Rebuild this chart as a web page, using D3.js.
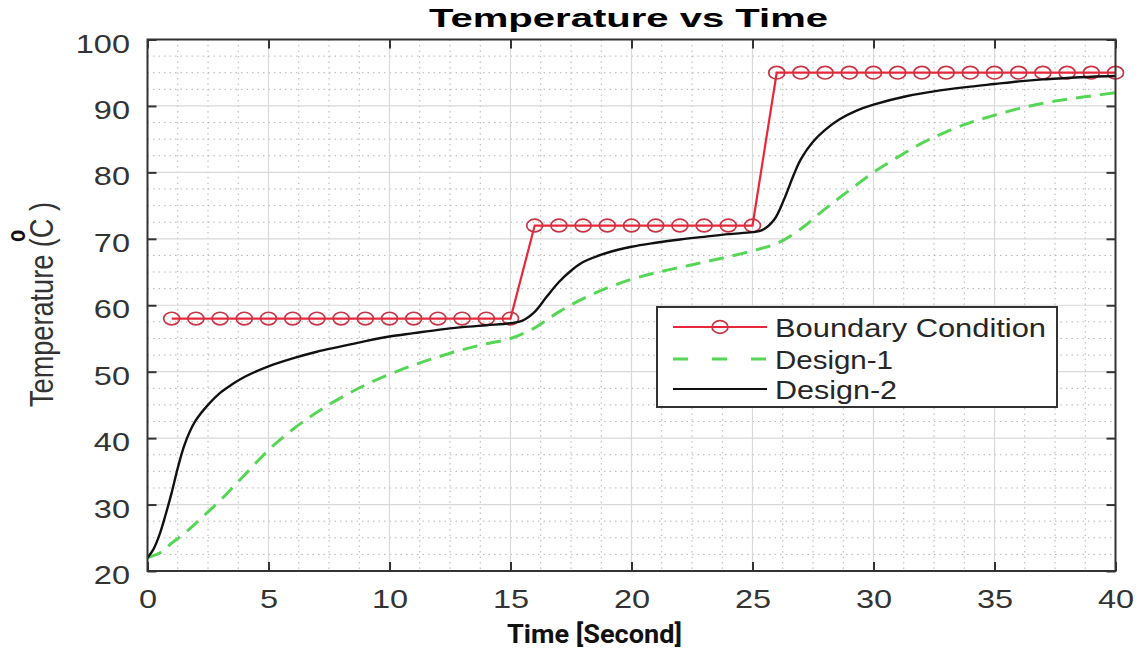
<!DOCTYPE html>
<html><head><meta charset="utf-8">
<script src="https://cdn.jsdelivr.net/npm/d3@7"></script>
<style>body{margin:0;background:#fff}</style>
</head><body><svg id="c" width="1140" height="651"></svg>
<script>
const xTicks=[0,5,10,15,20,25,30,35,40];
const yTicks=[20,30,40,50,60,70,80,90,100];
const titleText="Temperature vs Time";
const xLabel="Time [Second]";
const yLabel="Temperature (C )";
const seriesNames=["Boundary Condition","Design-1","Design-2"];

const bcTime=[1,2,3,4,5,6,7,8,9,10,11,12,13,14,15,16,17,18,19,20,21,22,23,24,25,26,27,28,29,30,31,32,33,34,35,36,37,38,39,40];
const bcTemp=[58,58,58,58,58,58,58,58,58,58,58,58,58,58,58,72,72,72,72,72,72,72,72,72,72,95,95,95,95,95,95,95,95,95,95,95,95,95,95,95];

const d1Time=[0,0.5,1,1.5,2,2.5,3,3.5,4,5,6,7,8,9,10,11,12,13,14,15,16,16.5,17,18,19,20,21,22,23,24,25,26,27,28,29,30,31,32,33,34,35,36,37,38,39,40];
const d1Temp=[22,22.7,24.2,25.6,27.2,28.9,30.6,32.5,34.4,38.2,41.3,43.9,46.1,48,49.6,51,52.2,53.3,54.2,55,56.6,57.8,59,61,62.6,63.9,64.9,65.7,66.5,67.3,68.2,69.3,71.5,74.5,77.3,80,82.3,84.4,86.1,87.5,88.6,89.6,90.4,91,91.5,92];

const d2Time=[0,0.25,0.5,0.75,1,1.25,1.5,1.75,2,2.5,3,3.5,4,5,6,7,8,9,10,11,12,13,14,15,15.5,16,16.5,17,17.5,18,19,20,21,22,23,24,25,25.4,25.9,26.3,26.7,27,27.5,28,28.6,29.3,30,31.4,32.5,34,35,36,37,38,39,40];
const d2Temp=[22,23.3,25.5,28.5,31.8,35.5,38.7,41,42.7,45,46.8,48.1,49.2,50.8,52,53,53.8,54.6,55.3,55.8,56.3,56.7,57,57.3,57.7,59,61.3,63.5,65.2,66.5,67.9,68.8,69.4,69.9,70.3,70.7,71,71.3,72.9,75.9,79.6,82,84.6,86.4,88,89.3,90.2,91.5,92.2,92.9,93.3,93.7,94,94.2,94.4,94.5];

const svg=d3.select("#c");
svg.append("rect").attr("width",1140).attr("height",651).attr("fill","#fff");
const X0=147.5,X1=1115.5,Y0=571,Y1=39.5;
const x=d3.scaleLinear().domain([0,40]).range([X0,X1]);
const y=d3.scaleLinear().domain([20,100]).range([Y0,Y1]);
const font="'Liberation Sans', Arial, sans-serif";

// grid
const g=svg.append("g");
const xMinor=d3.range(0,40.001,1.25).filter(v=>Math.abs(v%5)>1e-6);
const yMinor=d3.range(20,100.001,2.5).filter(v=>Math.abs(v%10)>1e-6);
g.selectAll(".xm").data(xMinor).join("line").attr("x1",d=>x(d)).attr("x2",d=>x(d)).attr("y1",Y1).attr("y2",Y0)
 .attr("stroke","#b5b5b5").attr("stroke-width",1).attr("stroke-dasharray","1.5,4");
g.selectAll(".ym").data(yMinor).join("line").attr("y1",d=>y(d)).attr("y2",d=>y(d)).attr("x1",X0).attr("x2",X1)
 .attr("stroke","#b5b5b5").attr("stroke-width",1).attr("stroke-dasharray","1.5,4");
g.selectAll(".xM").data(xTicks).join("line").attr("x1",d=>x(d)).attr("x2",d=>x(d)).attr("y1",Y1).attr("y2",Y0)
 .attr("stroke","#d9d9d9").attr("stroke-width",1.2);
g.selectAll(".yM").data(yTicks).join("line").attr("y1",d=>y(d)).attr("y2",d=>y(d)).attr("x1",X0).attr("x2",X1)
 .attr("stroke","#d9d9d9").attr("stroke-width",1.2);

// series
const bc=bcTime.map((t,i)=>[t,bcTemp[i]]);
const d1=d1Time.map((t,i)=>[t,d1Temp[i]]);
const d2=d2Time.map((t,i)=>[t,d2Temp[i]]);
const lineStraight=d3.line().x(d=>x(d[0])).y(d=>y(d[1]));
const lineSmooth=d3.line().x(d=>x(d[0])).y(d=>y(d[1])).curve(d3.curveCatmullRom.alpha(0.5));

svg.append("path").attr("d",lineStraight(bc)).attr("fill","none").attr("stroke","#e8283a").attr("stroke-width",2.2);
svg.selectAll(".mk").data(bc).join("ellipse").attr("cx",d=>x(d[0])).attr("cy",d=>y(d[1])).attr("rx",8).attr("ry",6.3)
 .attr("fill","none").attr("stroke","#c93545").attr("stroke-width",1.7);
svg.append("path").attr("d",lineSmooth(d1)).attr("fill","none").attr("stroke","#55d655").attr("stroke-width",3).attr("stroke-dasharray","15,9");
svg.append("path").attr("d",lineSmooth(d2)).attr("fill","none").attr("stroke","#111").attr("stroke-width",2.4);

// axes
const sx=1.25;
const axB=svg.append("g").attr("transform",`translate(0,${Y0})`).call(d3.axisBottom(x).tickValues(xTicks).tickSizeInner(-9).tickSizeOuter(0).tickFormat(d3.format("d")));
axB.select(".domain").remove();
axB.selectAll("text").attr("y",37).attr("dy",0).attr("transform",`scale(${sx},1)`);
const axT=svg.append("g").attr("transform",`translate(0,${Y1})`).call(d3.axisTop(x).tickValues(xTicks).tickSizeInner(-9).tickSizeOuter(0).tickFormat(""));
axT.select(".domain").remove();
const axL=svg.append("g").attr("transform",`translate(${X0},0)`).call(d3.axisLeft(y).tickValues(yTicks).tickSizeInner(-9).tickSizeOuter(0).tickFormat(d3.format("d")));
axL.select(".domain").remove();
axL.selectAll("text").attr("x",-17.5/sx).attr("dy",12.5).attr("transform",`scale(${sx},1)`);
const axR=svg.append("g").attr("transform",`translate(${X1},0)`).call(d3.axisRight(y).tickValues(yTicks).tickSizeInner(-9).tickSizeOuter(0).tickFormat(""));
axR.select(".domain").remove();
svg.selectAll(".tick line").attr("stroke","#333").attr("stroke-width",2);
svg.selectAll(".tick text").attr("font-family",font).attr("font-size",26).attr("fill","#333");
svg.append("rect").attr("x",X0).attr("y",Y1).attr("width",X1-X0).attr("height",Y0-Y1).attr("fill","none").attr("stroke","#333").attr("stroke-width",2);

// title & labels
svg.append("text").attr("x",429).attr("y",27).attr("font-family",font).attr("font-weight","bold").attr("font-size",26)
 .attr("textLength",399).attr("lengthAdjust","spacingAndGlyphs").attr("fill","#000").text(titleText);
svg.append("text").attr("x",507).attr("y",643).attr("font-family","Roboto, 'Noto Sans', sans-serif").attr("font-weight","bold").attr("font-size",25)
 .attr("textLength",175).attr("lengthAdjust","spacingAndGlyphs").attr("fill","#111").text(xLabel);
svg.append("text").attr("transform",`translate(53,407) scale(1.25,1) rotate(-90)`).attr("font-family",font).attr("font-size",26)
 .attr("textLength",205).attr("lengthAdjust","spacingAndGlyphs").attr("fill","#333").text(yLabel);
svg.append("text").attr("transform",`translate(25,236) scale(1.25,1) rotate(-90)`).attr("text-anchor","middle").attr("font-family",font)
 .attr("font-weight","bold").attr("font-size",20).attr("fill","#111").text("o");

// legend
const lg=svg.append("g");
lg.append("rect").attr("x",657).attr("y",307).attr("width",400).attr("height",100).attr("fill","#fff").attr("stroke","#333").attr("stroke-width",2);
const rows=[327,359,389];
lg.append("line").attr("x1",673).attr("x2",767).attr("y1",rows[0]).attr("y2",rows[0]).attr("stroke","#e8283a").attr("stroke-width",2.2);
lg.append("ellipse").attr("cx",720).attr("cy",rows[0]).attr("rx",8).attr("ry",6.3).attr("fill","none").attr("stroke","#c93545").attr("stroke-width",1.7);
lg.append("line").attr("x1",673).attr("x2",767).attr("y1",rows[1]).attr("y2",rows[1]).attr("stroke","#55d655").attr("stroke-width",3).attr("stroke-dasharray","15,24");
lg.append("line").attr("x1",673).attr("x2",767).attr("y1",rows[2]).attr("y2",rows[2]).attr("stroke","#111").attr("stroke-width",2.2);
const widths=[271,118,122];
seriesNames.forEach((n,i)=>{
  lg.append("text").attr("x",775).attr("y",rows[i]+10).attr("font-family",font).attr("font-size",25).attr("fill","#262626")
   .attr("textLength",widths[i]).attr("lengthAdjust","spacingAndGlyphs").text(n);
});
</script></body></html>
